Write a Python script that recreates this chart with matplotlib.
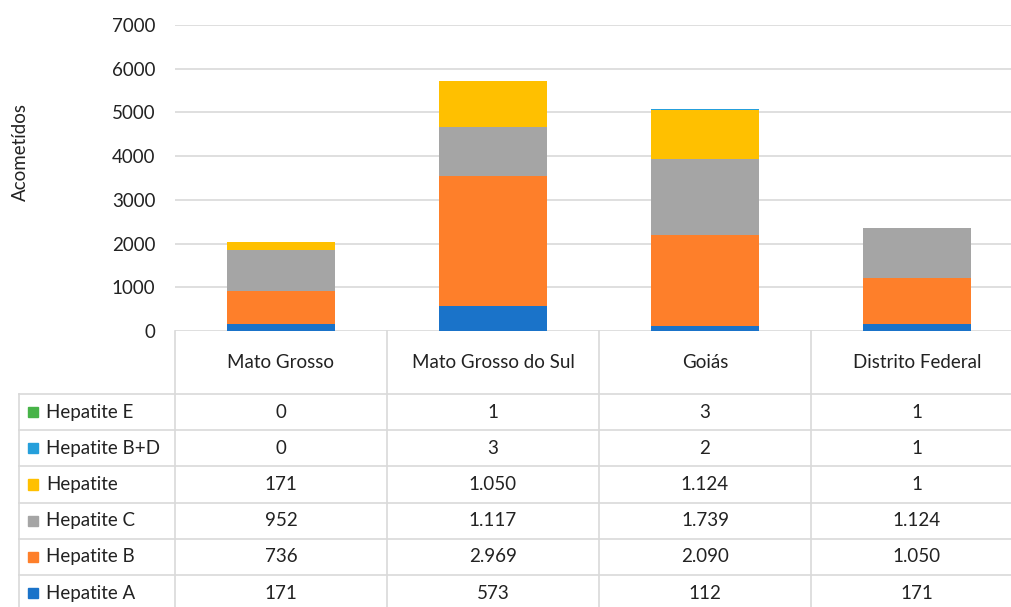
import matplotlib
matplotlib.use("Agg")
import matplotlib.pyplot as plt
from matplotlib.patches import Rectangle

plt.rcParams["font.family"] = ["Lato", "DejaVu Sans"]

# ── Dados ────────────────────────────────────────────────────
estados = ["Mato Grosso", "Mato Grosso do Sul", "Goiás", "Distrito Federal"]

hep_a = [171, 573, 112, 171]
hep_b = [736, 2969, 2090, 1050]
hep_c = [952, 1117, 1739, 1124]
hep_outra = [171, 1050, 1124, 1]
hep_bd = [0, 3, 2, 1]
hep_e = [0, 1, 3, 1]

# ordem de empilhamento (de baixo para cima)
series = [
    ("Hepatite A", hep_a, "#1a73c9"),
    ("Hepatite B", hep_b, "#fe7f2a"),
    ("Hepatite C", hep_c, "#a5a5a5"),
    ("Hepatite", hep_outra, "#ffc000"),
    ("Hepatite B+D", hep_bd, "#259fdb"),
    ("Hepatite E", hep_e, "#47b348"),
]

yticks = [0, 1000, 2000, 3000, 4000, 5000, 6000, 7000]

COR_GRADE = "#d9d9d9"
COR_TEXTO = "#222222"
FS = 13.5
W, H = 1012, 607

fig = plt.figure(figsize=(W / 100, H / 100), dpi=100)

# ── Barras empilhadas ────────────────────────────────────────
x0, x1 = 175, 1023          # a última coluna passa da borda
y_zero, y_topo = 331, 25
ax = fig.add_axes([x0 / W, 1 - y_zero / H, (x1 - x0) / W, (y_zero - y_topo) / H])

pos = list(range(len(estados)))
base = [0] * len(estados)
for nome, vals, cor in series:
    ax.bar(pos, vals, width=0.51, bottom=base, color=cor, zorder=3)
    base = [b + v for b, v in zip(base, vals)]

ax.set_xlim(-0.5, len(estados) - 0.5)
ax.set_ylim(0, 7000)
ax.set_yticks(yticks)
ax.set_xticks([])
ax.grid(axis="y", color=COR_GRADE, lw=1.2, zorder=0)
for s in ax.spines.values():
    s.set_visible(False)
ax.tick_params(axis="y", length=0, pad=14, labelsize=FS, labelcolor=COR_TEXTO)

fig.text(20 / W, 1 - 152 / H, "Acometídos", rotation=90, ha="center", va="center",
         fontsize=FS, color=COR_TEXTO)

# ── Tabela de dados ──────────────────────────────────────────
linha_h = 36.2
cab_h = (394 - y_zero) / linha_h
y_fim = (H - y_zero) / linha_h
tab = fig.add_axes([x0 / W, 0, (x1 - x0) / W, (H - y_zero) / H])
tab.set_xlim(-0.5, len(estados) - 0.5)
tab.set_ylim(y_fim, 0)
tab.axis("off")

col_px = (x1 - x0) / len(estados)
x_esq = -0.5 - (x0 - 19) / col_px
kw = dict(color=COR_GRADE, lw=1.2, clip_on=False)

# divisórias verticais
for i in range(len(estados)):
    tab.plot([i - 0.5, i - 0.5], [0, y_fim], **kw)
tab.plot([x_esq, x_esq], [cab_h, y_fim], **kw)

# cabeçalho
for i, est in enumerate(estados):
    tab.text(i, cab_h / 2, est, ha="center", va="center", fontsize=FS, color=COR_TEXTO)

# linhas da tabela (de cima para baixo: ordem inversa do empilhamento)
sq = 10 / col_px
for r, (nome, vals, cor) in enumerate(reversed(series)):
    yt = cab_h + r
    tab.plot([x_esq, len(estados) - 0.5], [yt, yt], **kw)
    yc = yt + 0.5
    tab.add_patch(Rectangle((x_esq + 9 / col_px, yc - 0.14), sq, 0.28,
                            color=cor, clip_on=False))
    tab.text(x_esq + 27 / col_px, yc, nome, ha="left", va="center",
             fontsize=FS, color=COR_TEXTO)
    for i, v in enumerate(vals):
        tab.text(i, yc, f"{v:,}".replace(",", "."), ha="center", va="center",
                 fontsize=FS, color=COR_TEXTO)

fig.savefig("out.png", dpi=100, facecolor="white")
plt.close(fig)
